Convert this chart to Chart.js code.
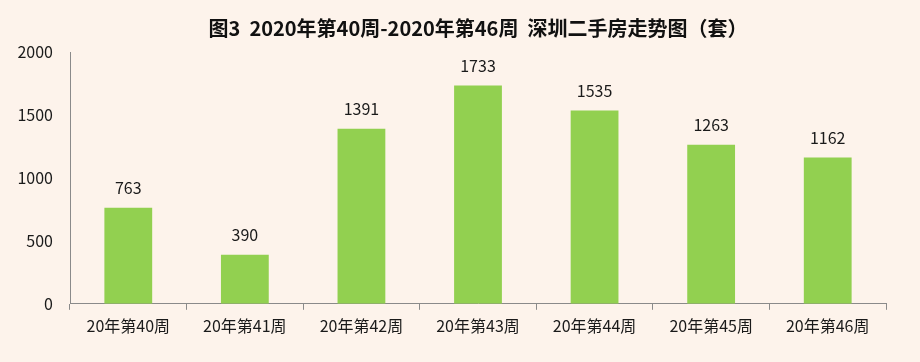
<!DOCTYPE html>
<html lang="zh">
<head>
    <meta charset="UTF-8">
    <title>深圳二手房走势图</title>
    <script src="https://cdn.jsdelivr.net/npm/chart.js"></script>
    <style>
        html, body { margin: 0; padding: 0; background: #fdf3eb; }
        .chart-container { position: relative; width: 920px; height: 362px; }
    </style>
</head>
<body>
    <div class="chart-container">
        <canvas id="weekChart"></canvas>
    </div>
    <script>
        const weeks = ['20年第40周', '20年第41周', '20年第42周', '20年第43周', '20年第44周', '20年第45周', '20年第46周'];
        const deals = [763, 390, 1391, 1733, 1535, 1263, 1162];
        const yTicks = [0, 500, 1000, 1500, 2000];

        const FONT = '"Noto Sans CJK SC", "Noto Sans", sans-serif';

        // value labels above each bar
        const barLabels = {
            id: 'barLabels',
            afterDatasetsDraw(chart) {
                const ctx = chart.ctx;
                const meta = chart.getDatasetMeta(0);
                ctx.save();
                ctx.font = '16px ' + FONT;
                ctx.fillStyle = '#1a1a1a';
                ctx.textAlign = 'center';
                ctx.textBaseline = 'bottom';
                meta.data.forEach((bar, i) => {
                    ctx.fillText(deals[i], bar.x, bar.y - 12);
                });
                ctx.restore();
            }
        };

        new Chart(document.getElementById('weekChart'), {
            type: 'bar',
            data: {
                labels: weeks,
                datasets: [{
                    data: deals,
                    backgroundColor: '#92d050',
                    barPercentage: 0.82,
                    categoryPercentage: 0.5
                }]
            },
            options: {
                responsive: true,
                maintainAspectRatio: false,
                animation: false,
                layout: { padding: { top: 8, right: 34, bottom: 19, left: 0 } },
                plugins: {
                    legend: { display: false },
                    tooltip: { enabled: false },
                    title: {
                        display: true,
                        fullSize: false,
                        text: '图3  2020年第40周-2020年第46周  深圳二手房走势图（套）',
                        color: '#111',
                        font: { family: FONT, size: 20, weight: 'bold' },
                        padding: { top: 8, bottom: 12 }
                    }
                },
                scales: {
                    x: {
                        grid: {
                            offset: true,
                            drawOnChartArea: false,
                            drawTicks: true,
                            tickLength: 6,
                            color: '#8a8a8a'
                        },
                        border: { color: '#8a8a8a', width: 1 },
                        ticks: {
                            color: '#1a1a1a',
                            font: { family: FONT, size: 16 },
                            padding: 7,
                            maxRotation: 0
                        }
                    },
                    y: {
                        min: 0,
                        max: 2000,
                        afterBuildTicks(axis) {
                            axis.ticks = yTicks.map(v => ({ value: v }));
                        },
                        afterFit(axis) { axis.width = 70; },
                        grid: { display: false, drawTicks: false },
                        border: { color: '#8a8a8a', width: 1 },
                        ticks: {
                            color: '#1a1a1a',
                            font: { family: FONT, size: 16 },
                            padding: 17,
                            callback: v => String(v)
                        }
                    }
                }
            },
            plugins: [barLabels]
        });
    </script>
</body>
</html>
